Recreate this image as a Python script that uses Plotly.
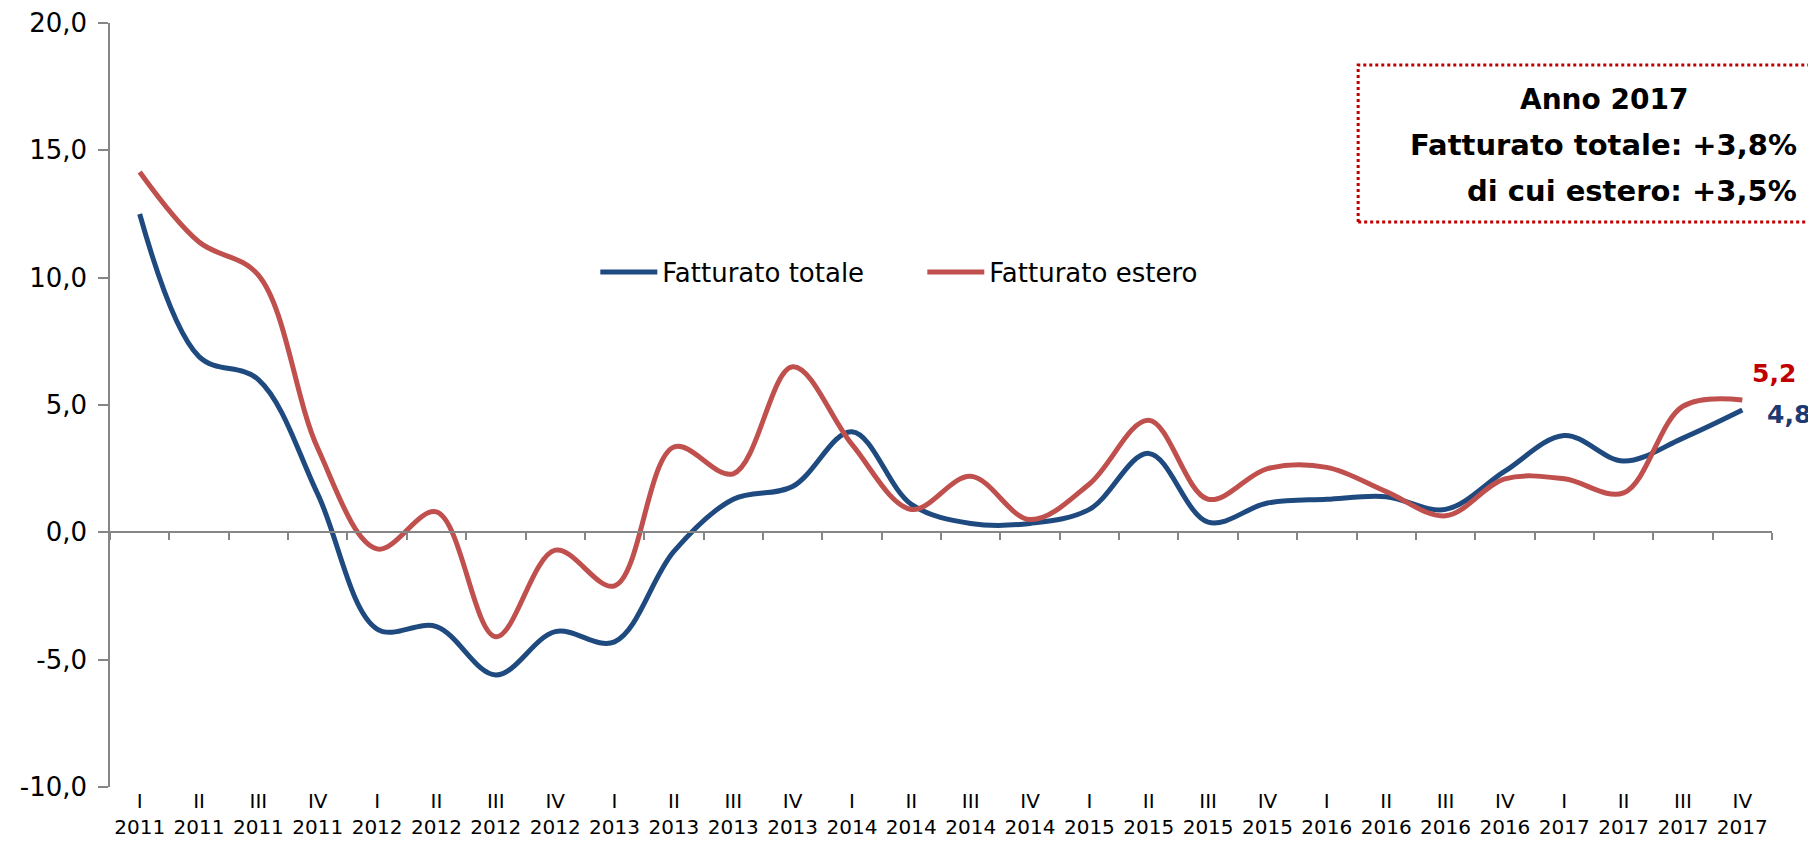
import plotly.graph_objects as go

# trimestri e anni
trimestri = ["I", "II", "III", "IV"] * 7
anni = [str(a) for a in range(2011, 2018) for _ in range(4)]
categorie = [f"{t}<br>{a}" for t, a in zip(trimestri, anni)]

# variazioni % tendenziali
fatturato_totale = [12.5, 6.9, 6.0, 1.5, -3.8, -3.7, -5.6, -3.9, -4.3, -0.75,
                    1.3, 1.8, 3.95, 1.1, 0.35, 0.35, 0.9, 3.1, 0.4, 1.15,
                    1.3, 1.4, 0.9, 2.4, 3.8, 2.8, 3.7, 4.8]
fatturato_estero = [14.15, 11.4, 10.1, 3.3, -0.65, 0.8, -4.1, -0.7, -2.1, 3.35,
                    2.3, 6.5, 3.45, 0.9, 2.2, 0.5, 1.9, 4.4, 1.3, 2.5,
                    2.55, 1.6, 0.65, 2.1, 2.1, 1.55, 4.95, 5.2]

y_ticks = [-10, -5, 0, 5, 10, 15, 20]

box_righe = ["Anno 2017", "Fatturato totale: +3,8%", "di cui estero: +3,5%"]

BLU = "#1F4A7F"
ROSSO = "#C0504D"
GRIGIO = "#868686"
FONT = "DejaVu Sans"


def fmt(v):
    return f"{v:.1f}".replace(".", ",")


fig = go.Figure()
fig.add_trace(go.Scatter(x=categorie, y=fatturato_totale, name="Fatturato totale",
                         mode="lines", line=dict(color=BLU, width=5, shape="spline", smoothing=1)))
fig.add_trace(go.Scatter(x=categorie, y=fatturato_estero, name="Fatturato estero",
                         mode="lines", line=dict(color=ROSSO, width=5, shape="spline", smoothing=1)))
# traccia vuota per l'asse sullo zero
fig.add_trace(go.Scatter(x=categorie, y=[None] * len(categorie), xaxis="x2",
                         showlegend=False, hoverinfo="skip"))

fig.add_annotation(x=categorie[-1], y=fatturato_estero[-1], text=f"<b>{fmt(fatturato_estero[-1])}</b>",
                   showarrow=False, xshift=32, yshift=26,
                   font=dict(family=FONT, size=25, color="#C00000"))
fig.add_annotation(x=categorie[-1], y=fatturato_totale[-1], text=f"<b>{fmt(fatturato_totale[-1])}</b>",
                   showarrow=False, xshift=47, yshift=-4,
                   font=dict(family=FONT, size=25, color="#1F3A73"))

# riquadro anno 2017
fig.add_shape(type="rect", xref="paper", yref="paper", x0=0.751, x1=1.06, y0=0.7395, y1=0.945,
              line=dict(color="#C00000", width=3, dash="dot"))
fig.add_annotation(xref="paper", yref="paper", x=0.899, y=0.900, text=f"<b>{box_righe[0]}</b>",
                   showarrow=False, xanchor="center", yanchor="middle",
                   font=dict(family=FONT, size=28, color="black"))
fig.add_annotation(xref="paper", yref="paper", x=1.0163, y=0.8406, text=f"<b>{box_righe[1]}</b>",
                   showarrow=False, xanchor="right", yanchor="middle",
                   font=dict(family=FONT, size=29, color="black"))
fig.add_annotation(xref="paper", yref="paper", x=1.0163, y=0.780, text=f"<b>{box_righe[2]}</b>",
                   showarrow=False, xanchor="right", yanchor="middle",
                   font=dict(family=FONT, size=29, color="black"))

# la pagina ha un margine di 8px: margini compensati
fig.update_layout(
    width=1816, height=852,
    margin=dict(l=102, r=52, t=15, b=73),
    plot_bgcolor="white", paper_bgcolor="white",
    separators=",.",
    font=dict(family=FONT, color="black"),
    showlegend=True,
    legend=dict(orientation="h", x=0.292, y=0.674, xanchor="left", yanchor="middle",
                font=dict(family=FONT, size=26, color="black"),
                itemwidth=57, entrywidth=255, bgcolor="rgba(0,0,0,0)"),
    xaxis=dict(type="category", categoryorder="array", categoryarray=categorie,
               range=[-0.5, len(categorie) - 0.5], showgrid=False, showline=False,
               ticks="", tickfont=dict(family=FONT, size=20, color="black"),
               zeroline=False, fixedrange=True, automargin=False),
    xaxis2=dict(type="category", categoryorder="array", categoryarray=categorie,
                matches="x", overlaying="x", anchor="free", position=1 / 3, side="bottom",
                showline=True, linecolor=GRIGIO, linewidth=2, ticks="outside",
                tickson="boundaries", ticklen=7, tickcolor=GRIGIO, tickwidth=1.5,
                showticklabels=False, showgrid=False, automargin=False),
    yaxis=dict(range=[-10, 20], tickvals=y_ticks, ticktext=[fmt(v) for v in y_ticks],
               showgrid=False, zeroline=False, showline=True, linecolor=GRIGIO, linewidth=1.5,
               ticks="outside", ticklen=10, tickcolor=GRIGIO, tickwidth=1.5,
               ticklabelstandoff=6, automargin=False,
               tickfont=dict(family=FONT, size=26, color="black")),
)

fig.write_html("out.html")
